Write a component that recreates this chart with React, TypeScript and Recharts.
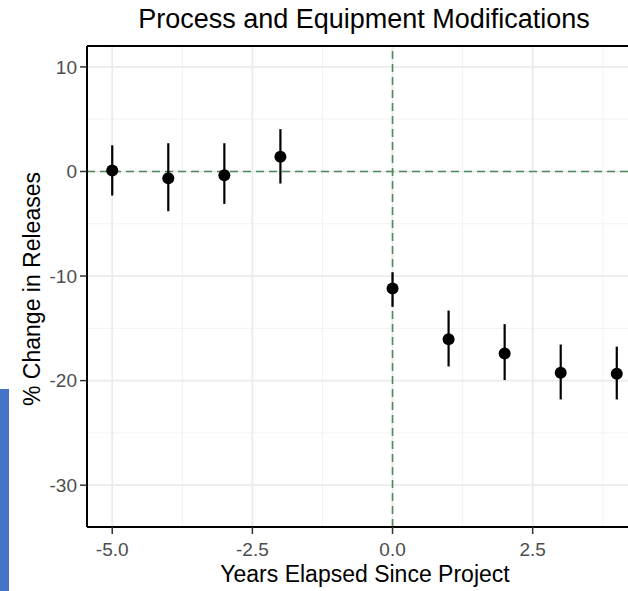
import React from 'react';
import {
  ComposedChart,
  Scatter,
  ErrorBar,
  XAxis,
  YAxis,
  ReferenceLine,
} from 'recharts';

const years = [-5, -4, -3, -2, 0, 1, 2, 3, 4];
const estimates = [0.1, -0.65, -0.35, 1.4, -11.2, -16.05, -17.4, -19.25, -19.35];
const lower = [-2.3, -3.8, -3.1, -1.15, -12.95, -18.65, -19.95, -21.8, -21.8];
const upper = [2.5, 2.7, 2.7, 4.05, -9.65, -13.3, -14.6, -16.55, -16.75];

const xTicks = [-5, -2.5, 0, 2.5];
const xMinor = [-3.75, -1.25, 1.25, 3.75];
const yTicks = [10, 0, -10, -20, -30];
const yMinor = [5, -5, -15, -25];

const data = years.map((x, i) => ({
  x,
  y: estimates[i],
  err: [estimates[i] - lower[i], upper[i] - estimates[i]],
}));

const FONT = '"Liberation Sans", Arial, sans-serif';
const DASH_GREEN = '#4F8A5B';

export default function App() {
  return (
    <div
      style={{
        position: 'absolute',
        left: 0,
        top: 0,
        width: 628,
        height: 591,
        overflow: 'hidden',
        background: '#fff',
        fontFamily: FONT,
      }}
    >
      <ComposedChart
        width={660}
        height={591}
        data={data}
        margin={{ top: 46, right: 18, left: 0, bottom: 0 }}
      >
        {yMinor.map((v) => (
          <ReferenceLine key={'ym' + v} y={v} stroke="#F2F2F2" strokeWidth={1} />
        ))}
        {xMinor.map((v) => (
          <ReferenceLine key={'xm' + v} x={v} stroke="#F2F2F2" strokeWidth={1} />
        ))}
        {yTicks.map((v) => (
          <ReferenceLine key={'yM' + v} y={v} stroke="#EBEBEB" strokeWidth={1.8} />
        ))}
        {xTicks.map((v) => (
          <ReferenceLine key={'xM' + v} x={v} stroke="#EBEBEB" strokeWidth={1.8} />
        ))}
        <ReferenceLine y={0} stroke={DASH_GREEN} strokeWidth={1.6} strokeDasharray="8 5" />
        <ReferenceLine x={0} stroke={DASH_GREEN} strokeWidth={1.6} strokeDasharray="8 5" />
        <ReferenceLine y={12} stroke="#000" strokeWidth={2} />
        <XAxis
          type="number"
          dataKey="x"
          domain={[-5.45, 4.45]}
          ticks={xTicks}
          allowDataOverflow
          height={64}
          tickFormatter={(v: number) => v.toFixed(1)}
          tick={{ fill: '#4D4D4D', fontSize: 19, fontFamily: FONT }}
          tickSize={7}
          tickMargin={9}
          axisLine={{ stroke: '#000', strokeWidth: 2 }}
          tickLine={{ stroke: '#333', strokeWidth: 1.5 }}
        />
        <YAxis
          type="number"
          dataKey="y"
          domain={[-34, 12]}
          ticks={yTicks}
          allowDataOverflow
          width={87}
          tick={{ fill: '#4D4D4D', fontSize: 19, fontFamily: FONT }}
          tickSize={7}
          tickMargin={3}
          axisLine={{ stroke: '#000', strokeWidth: 2 }}
          tickLine={{ stroke: '#333', strokeWidth: 1.5 }}
        />
        <Scatter
          dataKey="y"
          fill="#000"
          isAnimationActive={false}
          shape={(p: any) => <circle cx={p.cx} cy={p.cy} r={6} fill="#000" />}
        >
          <ErrorBar
            dataKey="err"
            direction="y"
            width={0}
            stroke="#000"
            strokeWidth={2.2}
            isAnimationActive={false}
          />
        </Scatter>
      </ComposedChart>
      <svg
        width={628}
        height={591}
        style={{ position: 'absolute', left: 0, top: 0, pointerEvents: 'none' }}
      >
        <text x={364} y={28} textAnchor="middle" fontSize={27} fontFamily={FONT} fill="#000">
          Process and Equipment Modifications
        </text>
        <text
          x={0}
          y={0}
          transform="translate(40 289) rotate(-90)"
          textAnchor="middle"
          fontSize={23}
          fontFamily={FONT}
          fill="#000"
        >
          % Change in Releases
        </text>
        <text x={365} y={582} textAnchor="middle" fontSize={23} fontFamily={FONT} fill="#000">
          Years Elapsed Since Project
        </text>
        <rect x={0} y={389} width={9} height={202} fill="#4472C4" />
      </svg>
    </div>
  );
}
